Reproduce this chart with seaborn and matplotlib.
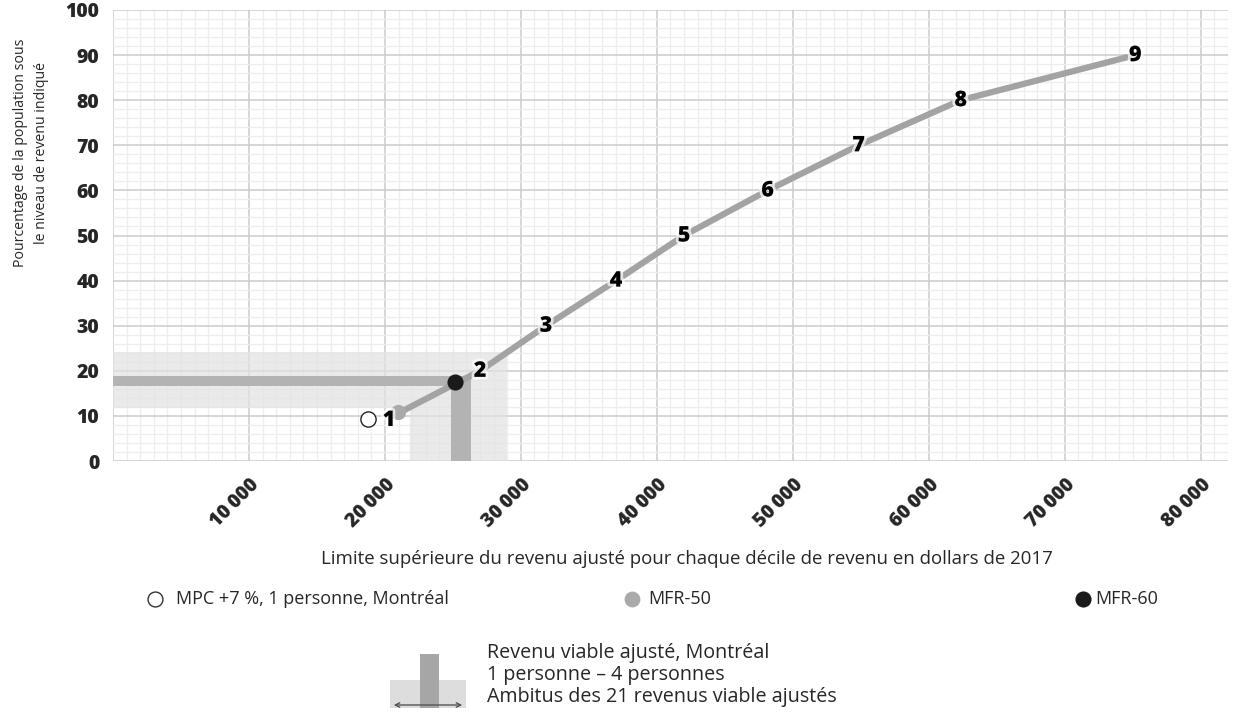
import matplotlib.pyplot as plt
import matplotlib.patheffects as pe
import numpy as np
import pandas as pd
import seaborn as sns
from matplotlib.patches import Rectangle, FancyArrowPatch
from matplotlib.ticker import MultipleLocator, FuncFormatter

sns.set_style("white")
plt.rcParams["font.family"] = ["Open Sans", "DejaVu Sans"]

# deciles de revenu (limite superieure) et pourcentage de la population
decile = [1, 2, 3, 4, 5, 6, 7, 8, 9]
revenu = [20600, 27000, 31850, 37000, 42000, 48150, 54850, 62350, 75200]
pourcentage = [10, 20, 30, 40, 50, 60, 70, 80, 90]

# seuils
mpc_x, mpc_y = 18750, 9.3
mfr50_x, mfr50_y = 20960, 10.8
mfr60_x, mfr60_y = 25150, 17.5

# ambitus des 21 revenus viables et revenu viable 1 a 4 personnes
ambitus_x = [21850, 29000]
ambitus_y = [11.8, 24.2]
viable_x = [24850, 26300]
viable_y = [16.7, 18.8]

df = pd.DataFrame({"revenu": revenu, "pct": pourcentage, "decile": decile})

fig = plt.figure(figsize=(12.49, 7.14), dpi=100)
ax = fig.add_axes([0.0905, 0.3543, 0.8925, 0.6317])

band = "#e2e2e2"
dark = "#b3b3b3"
ax.add_patch(Rectangle((0, ambitus_y[0]), ambitus_x[0], ambitus_y[1] - ambitus_y[0],
                       color=band, alpha=0.7, lw=0, zorder=1))
ax.add_patch(Rectangle((ambitus_x[0], 0), ambitus_x[1] - ambitus_x[0], ambitus_y[1],
                       color=band, alpha=0.7, lw=0, zorder=1))
ax.add_patch(Rectangle((0, viable_y[0]), viable_x[1], viable_y[1] - viable_y[0],
                       color=dark, lw=0, zorder=2))
ax.add_patch(Rectangle((viable_x[0], 0), viable_x[1] - viable_x[0], viable_y[1],
                       color=dark, lw=0, zorder=2))

sns.lineplot(data=df, x="revenu", y="pct", color="#a3a3a3", lw=4.5, ax=ax, zorder=3)
sns.scatterplot(x=[mfr50_x], y=[mfr50_y], color="#aaaaaa", s=120, lw=0, ax=ax, zorder=4)
sns.scatterplot(x=[mfr60_x], y=[mfr60_y], color="#1a1a1a", s=135, lw=0, ax=ax, zorder=5)
sns.scatterplot(x=[mpc_x], y=[mpc_y], color="white", edgecolor="#222222", s=120, lw=1,
                ax=ax, zorder=5)

halo = [pe.withStroke(linewidth=4, foreground="white", alpha=0.7)]
for d, xv, yv in zip(decile, revenu, pourcentage):
    dx, dy = (0, 0)
    if d == 1:
        dx, dy = (-300, -0.9)
    ax.text(xv + dx, yv + dy, str(d), ha="center", va="center", fontsize=15.5,
            fontweight="heavy", color="black", zorder=6, path_effects=halo)

ax.set_xlim(0, 82000)
ax.set_ylim(0, 100)
ax.xaxis.set_major_locator(MultipleLocator(10000))
ax.xaxis.set_minor_locator(MultipleLocator(1000))
ax.yaxis.set_major_locator(MultipleLocator(10))
ax.yaxis.set_minor_locator(MultipleLocator(2))
ax.set_axisbelow(True)
ax.grid(which="minor", color="#eeeeee", lw=0.9, zorder=0)
ax.grid(which="major", color="#cccccc", lw=1.1, zorder=0)
for s in ax.spines.values():
    s.set_visible(False)
ax.tick_params(which="major", length=6, width=1.1, color="#cccccc", pad=4)
ax.tick_params(which="minor", length=0)
ax.xaxis.set_major_formatter(FuncFormatter(
    lambda v, p: "" if v == 0 else f"{int(v):,}".replace(",", "\u2009")))
ax.yaxis.set_major_formatter(FuncFormatter(lambda v, p: f"{int(v)}"))
for lab in ax.get_xticklabels():
    lab.set_rotation(45)
    lab.set_ha("right")
    lab.set_rotation_mode("anchor")
    lab.set_fontweight("heavy")
    lab.set_fontsize(14)
for lab in ax.get_yticklabels():
    lab.set_fontweight("heavy")
    lab.set_fontsize(14)
ax.set_xlabel("Limite supérieure du revenu ajusté pour chaque décile de revenu en dollars de 2017",
              fontsize=13.4)
ax.set_ylabel("Pourcentage de la population sous\nle niveau de revenu indiqué",
              fontsize=10.2, linespacing=1.6)
ax.xaxis.set_label_coords(0.515, -0.197)
ax.yaxis.set_label_coords(-0.057, 0.683)

# legende (coordonnees en pixels de la figure)
lg = fig.add_axes([0, 0, 1, 1])
lg.set_xlim(0, 1249)
lg.set_ylim(714, 0)
lg.axis("off")
lg.scatter([155], [599], s=115, color="white", edgecolor="#333333", lw=1)
lg.text(176, 599, "MPC +7 %, 1 personne, Montréal", va="center", fontsize=13)
lg.scatter([632], [599], s=130, color="#aaaaaa", lw=0)
lg.text(648, 599, "MFR-50", va="center", fontsize=13)
lg.scatter([1083], [599], s=135, color="#1a1a1a", lw=0)
lg.text(1095, 599, "MFR-60", va="center", fontsize=13)

lg.add_patch(Rectangle((390, 680), 76, 28, color="#dddddd", lw=0))
lg.add_patch(Rectangle((420, 654), 19, 54, color="#a6a6a6", lw=0))
lg.add_patch(FancyArrowPatch((391, 705), (465, 705), arrowstyle="<->", mutation_scale=8,
                             color="#555555", lw=1))
lg.text(487, 653, "Revenu viable ajusté, Montréal", va="center", fontsize=14.2)
lg.text(487, 675, "1 personne – 4 personnes", va="center", fontsize=14.2)
lg.text(487, 697, "Ambitus des 21 revenus viable ajustés", va="center", fontsize=14.2)

fig.savefig("out.png", dpi=100)
